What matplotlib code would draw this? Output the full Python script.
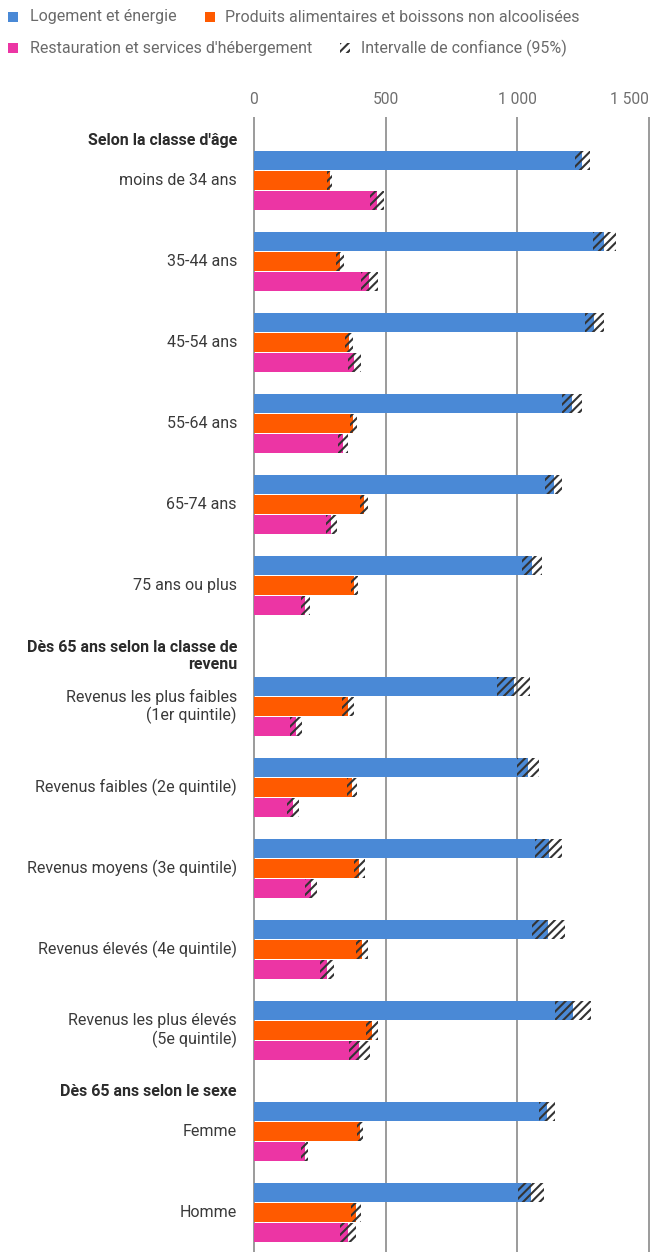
import matplotlib
matplotlib.use("Agg")
import matplotlib.pyplot as plt
from matplotlib.patches import Rectangle

plt.rcParams['font.family'] = ['Roboto', 'DejaVu Sans']
plt.rcParams['hatch.linewidth'] = 1.5
plt.rcParams['hatch.color'] = '#333333'

# ---------------- data ----------------
section_titles = ["Selon la classe d'âge",
                  "Dès 65 ans selon la classe de\nrevenu",
                  "Dès 65 ans selon le sexe"]
section_sizes = [6, 5, 2]
categories = ["moins de 34 ans", "35-44 ans", "45-54 ans", "55-64 ans",
              "65-74 ans", "75 ans ou plus",
              "Revenus les plus faibles\n(1er quintile)",
              "Revenus faibles (2e quintile)",
              "Revenus moyens (3e quintile)",
              "Revenus élevés (4e quintile)",
              "Revenus les plus élevés\n(5e quintile)",
              "Femme", "Homme"]

series_names = ["Logement et énergie",
                "Produits alimentaires et boissons non alcoolisées",
                "Restauration et services d'hébergement"]
ci_name = "Intervalle de confiance (95%)"

logement = [1248, 1331, 1293, 1207, 1138, 1057, 986, 1040, 1119, 1118, 1212, 1114, 1051]
logement_lo = [1219, 1288, 1257, 1169, 1105, 1017, 922, 1000, 1067, 1055, 1143, 1082, 1002]
logement_hi = [1278, 1374, 1329, 1245, 1172, 1096, 1050, 1081, 1172, 1181, 1282, 1145, 1101]

alim = [288, 326, 360, 377, 417, 381, 357, 371, 400, 409, 449, 402, 387]
alim_lo = [278, 311, 345, 364, 402, 368, 334, 353, 380, 387, 425, 391, 368]
alim_hi = [298, 341, 375, 390, 432, 394, 380, 390, 420, 432, 473, 414, 405]

resto = [467, 438, 381, 339, 294, 195, 160, 147, 216, 277, 400, 192, 356]
resto_lo = [440, 406, 357, 319, 273, 178, 137, 125, 194, 251, 361, 178, 327]
resto_hi = [494, 470, 405, 359, 314, 211, 182, 170, 238, 304, 439, 205, 386]

tick_values = [0, 500, 1000, 1500]
tick_labels = ["0", "500", "1 000", "1 500"]

colors = ["#4A89D6", "#FF5A00", "#EC35A4"]

# ---------------- layout (pixels) ----------------
W, H = 650, 1252
DPI = 100
FS = 11.5
fig = plt.figure(figsize=(W / DPI, H / DPI), dpi=DPI)

px_per_unit = 131.6 / 500.0
zero_px = 254
ax_left_px, ax_right_px = 250, 650
ax_top_px, ax_bot_px = 117, 1252
ax = fig.add_axes([ax_left_px / W, 1 - ax_bot_px / H,
                   (ax_right_px - ax_left_px) / W, (ax_bot_px - ax_top_px) / H])
ax.set_xlim(-(zero_px - ax_left_px) / px_per_unit, (ax_right_px - zero_px) / px_per_unit)
ax.set_ylim(ax_bot_px - ax_top_px, 0)

BAR_STEP, BAR_H = 20, 19
GROUP_PITCH, GROUP_SPAN = 81, 59
GAP, LINE = 22, 20

values = [logement, alim, resto]
los = [logement_lo, alim_lo, resto_lo]
his = [logement_hi, alim_hi, resto_hi]

label_color = '#3a3a3a'
cursor = -8
idx = 0
for title, n in zip(section_titles, section_sizes):
    nlines = title.count("\n") + 1
    start = cursor + GAP + LINE * nlines
    fig.text(237 / W, 1 - (ax_top_px + start - 11 - (nlines - 1) * 10) / H, title,
             ha='right', va='center', fontsize=FS, fontweight='bold',
             color='#2b2b2b', linespacing=1.2)
    for g in range(n):
        gs = start + g * GROUP_PITCH
        for k in range(3):
            yc = gs + BAR_H / 2 + k * BAR_STEP
            v = values[k][idx]
            ax.barh(yc, v, height=BAR_H, color=colors[k], zorder=3, linewidth=0)
            lo, hi = los[k][idx], his[k][idx]
            ax.barh(yc, hi - lo, left=lo, height=BAR_H, facecolor='none',
                    edgecolor='#333333', hatch='////', linewidth=0, zorder=4)
        fig.text(237 / W, 1 - (ax_top_px + gs + GROUP_SPAN / 2) / H, categories[idx],
                 ha='right', va='center', fontsize=FS, color=label_color,
                 linespacing=1.2, multialignment='right')
        idx += 1
    cursor = start + (n - 1) * GROUP_PITCH + GROUP_SPAN

# axis styling
ax.xaxis.tick_top()
ax.set_xticks(tick_values)
ax.set_xticklabels(tick_labels)
ax.tick_params(axis='x', length=0, pad=7, labelsize=11.2, labelcolor='#6f6f6f')
ax.get_xticklabels()[-1].set_horizontalalignment('right')
ax.set_yticks([])
for s in ax.spines.values():
    s.set_visible(False)
ax.grid(axis='x', color='#8a8a8a', linewidth=1.2, zorder=0)
ax.set_axisbelow(True)

# ---------------- legend (manual flow layout) ----------------
def legend_square(x, y, color, hatch=None):
    size = 10
    r = Rectangle((x / W, 1 - (y + size / 2) / H), size / W, size / H,
                  transform=fig.transFigure, facecolor=color if hatch is None else 'white',
                  edgecolor='#333333' if hatch else 'none', hatch=hatch, linewidth=0)
    fig.add_artist(r)

leg_items = [(8, 17, colors[0], None, 30, series_names[0]),
             (205, 17, colors[1], None, 225, series_names[1]),
             (8, 48, colors[2], None, 30, series_names[2]),
             (340, 48, None, '////', 361, ci_name)]
for sx, sy, col, hatch, tx, txt in leg_items:
    legend_square(sx, sy, col, hatch)
    fig.text(tx / W, 1 - sy / H, txt, ha='left', va='center', fontsize=FS, color='#6a6a6a')

fig.savefig("out.png", dpi=DPI)
